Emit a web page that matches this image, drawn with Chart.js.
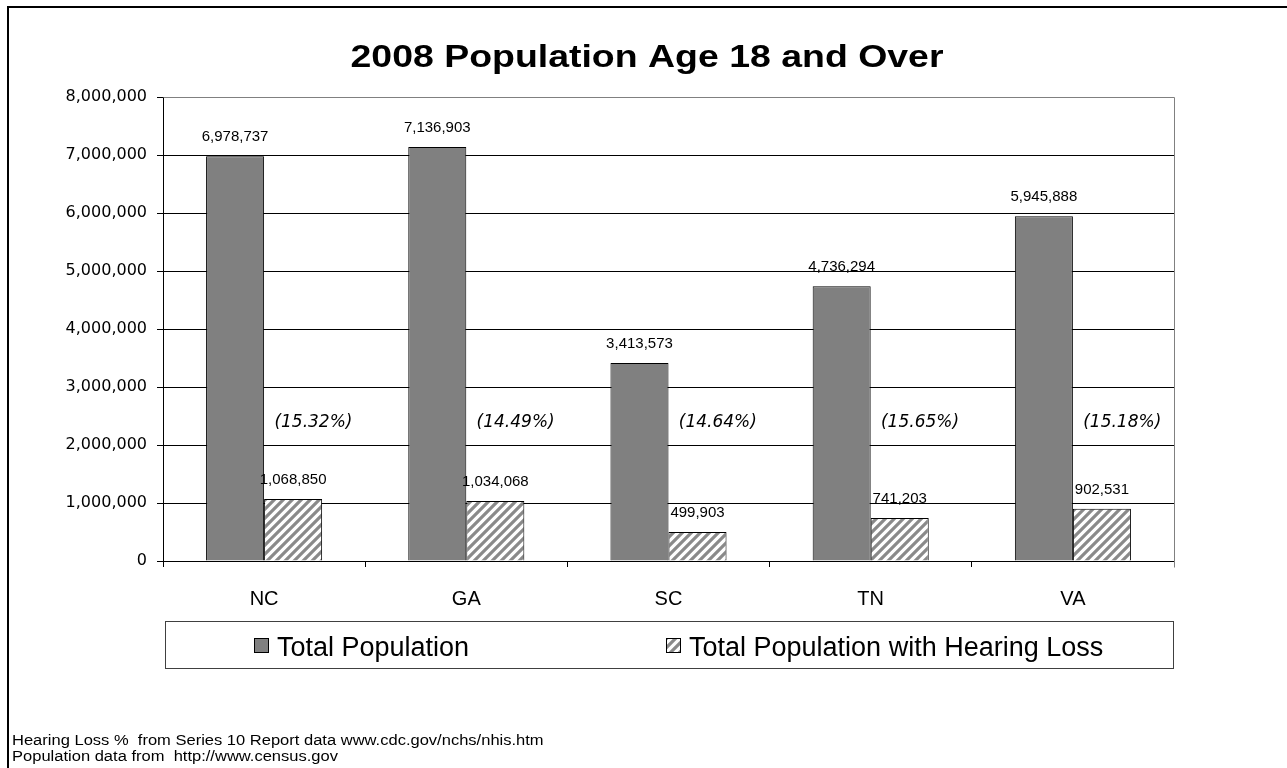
<!DOCTYPE html>
<html>
<head>
<meta charset="utf-8">
<title>2008 Population Age 18 and Over</title>
<script src="https://cdn.jsdelivr.net/npm/chart.js@4.4.1/dist/chart.umd.min.js"></script>
<style>
  html, body { margin: 0; padding: 0; background: #fff; overflow: hidden; }
  #wrap { position: relative; width: 1287px; height: 768px; }
</style>
</head>
<body>
<div id="wrap"><canvas id="c" width="1287" height="768"></canvas></div>
<script>
// Adult (18+) population by state, 2008, and the share estimated to have hearing loss
const states = ['NC', 'GA', 'SC', 'TN', 'VA'];
const totalPopulation = [6978737, 7136903, 3413573, 4736294, 5945888];
const hearingLossPopulation = [1068850, 1034068, 499903, 741203, 902531];
const hearingLossPercent = ['(15.32%)', '(14.49%)', '(14.64%)', '(15.65%)', '(15.18%)'];
const yTicks = [0, 1000000, 2000000, 3000000, 4000000, 5000000, 6000000, 7000000, 8000000];
const seriesNames = ['Total Population', 'Total Population with Hearing Loss'];
const chartTitle = '2008 Population Age 18 and Over';
const footnotes = [
  'Hearing Loss %  from Series 10 Report data www.cdc.gov/nchs/nhis.htm',
  'Population data from  http://www.census.gov'
];

const SANS = '"Liberation Sans", Arial, Helvetica, sans-serif';
const WIDE = '"DejaVu Sans", Verdana, sans-serif';
const fmt = v => Number(v).toLocaleString('en-US');

// diagonal gray-on-white hatch for the hearing-loss series
function makeHatch() {
  const s = 9;
  const c = document.createElement('canvas');
  c.width = c.height = s;
  const g = c.getContext('2d');
  g.fillStyle = '#ffffff';
  g.fillRect(0, 0, s, s);
  g.strokeStyle = '#8a8a8a';
  g.lineWidth = 3.2;
  g.beginPath();
  g.moveTo(0, s); g.lineTo(s, 0);
  g.moveTo(-2, 2); g.lineTo(2, -2);
  g.moveTo(s - 2, s + 2); g.lineTo(s + 2, s - 2);
  g.stroke();
  return g.createPattern(c, 'repeat');
}
const hatch = makeHatch();

// text drawn with a horizontal stretch (wide set type)
function wideText(ctx, text, x, y, sx) {
  ctx.save();
  ctx.translate(x, y);
  ctx.scale(sx, 1);
  ctx.fillText(text, 0, 0);
  ctx.restore();
}

const decorations = {
  id: 'decorations',
  afterDatasetsDraw(chart) {
    const ctx = chart.ctx;
    const y = chart.scales.y;
    ctx.save();
    ctx.fillStyle = '#000';
    ctx.textAlign = 'center';
    ctx.textBaseline = 'middle';
    // value labels over each bar
    ctx.font = '15px ' + SANS;
    chart.data.datasets.forEach((ds, di) => {
      chart.getDatasetMeta(di).data.forEach((bar, i) => {
        ctx.fillText(fmt(ds.data[i]), bar.x, bar.y - 19);
      });
    });
    // hearing-loss share labels, beside the hatched bar
    ctx.font = 'italic 17px ' + WIDE;
    const pctLevel = 2390000;
    chart.getDatasetMeta(1).data.forEach((bar, i) => {
      ctx.fillText(hearingLossPercent[i], bar.x + bar.width * 0.35, y.getPixelForValue(pctLevel));
    });
    ctx.restore();
  },
  afterDraw(chart) {
    const ctx = chart.ctx;
    const a = chart.chartArea;
    ctx.save();
    // gray top and right edges of the plot frame
    ctx.strokeStyle = '#808080';
    ctx.lineWidth = 1;
    ctx.beginPath();
    ctx.moveTo(Math.round(a.left) + 0.5, Math.round(a.top) + 0.5);
    ctx.lineTo(Math.round(a.right) + 0.5, Math.round(a.top) + 0.5);
    ctx.lineTo(Math.round(a.right) + 0.5, Math.round(a.bottom) + 6.5);
    ctx.stroke();

    // title
    ctx.fillStyle = '#000';
    ctx.textAlign = 'center';
    ctx.textBaseline = 'alphabetic';
    ctx.font = 'bold 32px ' + SANS;
    wideText(ctx, chartTitle, 647, 67, 1.17);

    // legend box
    ctx.strokeStyle = '#404040';
    ctx.strokeRect(165.5, 621.5, 1008, 47);
    const items = [
      { x: 254, fill: '#808080', text: seriesNames[0] },
      { x: 666, fill: hatch, text: seriesNames[1] }
    ];
    ctx.textAlign = 'left';
    ctx.font = '27px ' + SANS;
    items.forEach(it => {
      ctx.fillStyle = it.fill;
      ctx.fillRect(it.x, 638, 15, 15);
      ctx.strokeStyle = '#000';
      ctx.strokeRect(it.x + 0.5, 638.5, 14, 14);
      ctx.fillStyle = '#000';
      ctx.fillText(it.text, it.x + 23, 656);
    });

    // source notes
    ctx.font = '14px ' + SANS;
    wideText(ctx, footnotes[0], 12, 745, 1.18);
    wideText(ctx, footnotes[1], 12, 761, 1.18);

    // outer frame
    ctx.fillStyle = '#000';
    ctx.fillRect(7, 6, 2, 768);
    ctx.fillRect(7, 6, 1287, 2);
    ctx.restore();
  }
};

new Chart(document.getElementById('c'), {
  type: 'bar',
  data: {
    labels: states,
    datasets: [
      { label: seriesNames[0], data: totalPopulation, backgroundColor: '#808080', borderColor: '#000', borderWidth: 1 },
      { label: seriesNames[1], data: hearingLossPopulation, backgroundColor: hatch, borderColor: '#000', borderWidth: 1 }
    ]
  },
  options: {
    responsive: false,
    animation: false,
    devicePixelRatio: 1,
    layout: { padding: { top: 97, right: 113, left: 0, bottom: 0 } },
    datasets: { bar: { categoryPercentage: 0.574, barPercentage: 1 } },
    plugins: { legend: { display: false }, title: { display: false }, tooltip: { enabled: false } },
    scales: {
      x: {
        grid: { display: true, drawOnChartArea: false, drawTicks: true, tickLength: 6, color: '#000', offset: true },
        border: { color: '#000' },
        ticks: { color: '#000', font: { family: SANS, size: 20 }, padding: 20 },
        afterFit(s) { s.height = 207; }
      },
      y: {
        min: 0,
        max: 8000000,
        afterBuildTicks(s) { s.ticks = yTicks.map(v => ({ value: v })); },
        grid: { color: '#000', tickLength: 6 },
        border: { color: '#000' },
        ticks: { color: '#000', font: { family: WIDE, size: 16 }, padding: 10, callback: v => fmt(v) },
        afterFit(s) { s.width = 163; }
      }
    }
  },
  plugins: [decorations]
});
</script>
</body>
</html>
